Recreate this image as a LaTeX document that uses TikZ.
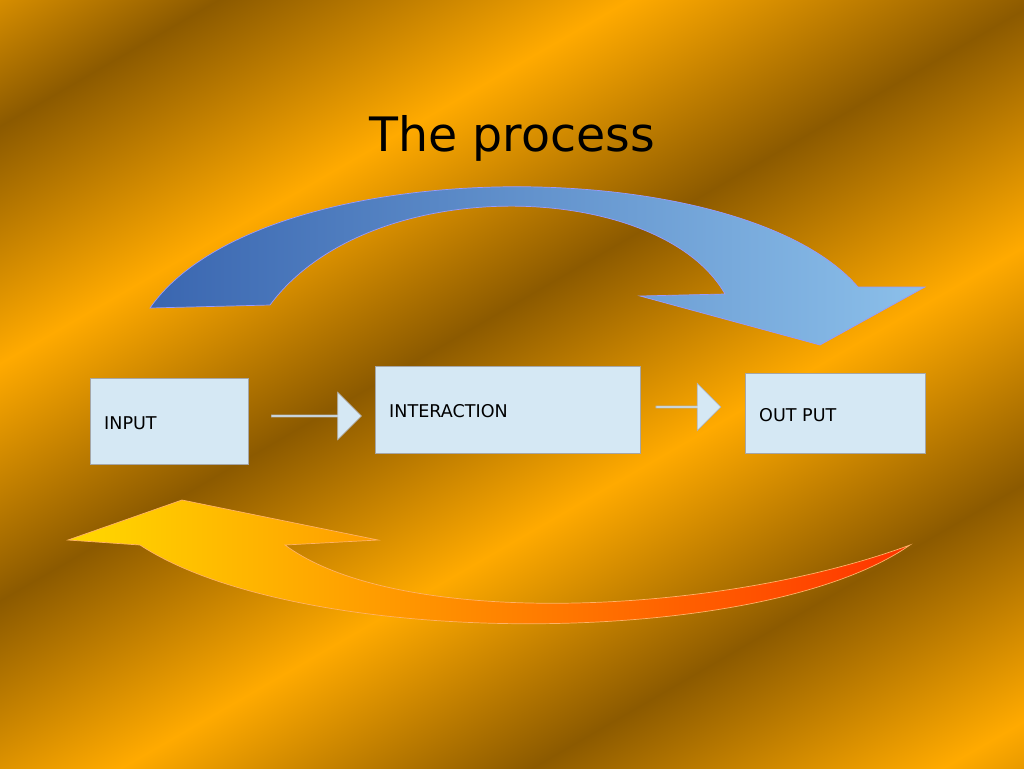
\documentclass[tikz,border=0pt]{standalone}
\usepackage{fontspec}
\setmainfont{DejaVu Sans}
\usetikzlibrary{shapes.arrows}
\definecolor{bright}{HTML}{FFAA00}
\definecolor{dark}{HTML}{8C5A00}
\pgfdeclarehorizontalshading{stripes}{100bp}{
  color(0bp)=(dark); color(12bp)=(bright); color(22bp)=(dark);
  color(34bp)=(bright); color(46bp)=(dark); color(58bp)=(bright);
  color(70bp)=(dark); color(82bp)=(bright); color(94bp)=(dark);
  color(100bp)=(bright)}
\definecolor{boxfill}{HTML}{D5E8F4}
\definecolor{bluedark}{HTML}{3A66B0}
\definecolor{bluelight}{HTML}{8CC0EA}
\tikzset{
  stage/.style={draw=gray!70, fill=boxfill},
  step/.style={single arrow, draw=gray!60, fill=boxfill, single arrow head extend=5pt,
    minimum height=#1, minimum width=0.95cm, inner sep=0pt},
}
\begin{document}
\begin{tikzpicture}[x=0.02cm, y=-0.02cm]
  \useasboundingbox (0,0) rectangle (1024,768);
  \shade[shading=stripes, shading angle=-60] (0,0) rectangle (1024,768);
  \node (title) at (512,138) {\fontsize{27}{32}\selectfont The process};
  % stages
  \path[stage] (90,378) rectangle (248,464);
  \node[anchor=west] (in) at (98,423) {INPUT};
  \path[stage] (375,366) rectangle (640,453);
  \node[anchor=west] (inter) at (383,411) {INTERACTION};
  \path[stage] (745,373) rectangle (925,453);
  \node[anchor=west] (out) at (753,415) {OUT PUT};
  \node[step=1.8cm] (s1) at (316,416) {};
  \node[step=1.3cm] (s2) at (688,407) {};
  % feedback arrows
  \shade[left color=bluedark, right color=bluelight, draw=white!60!blue]
    (150,308) .. controls (260,150) and (740,150) .. (858,287) -- (925,287) -- (820,345)
    -- (640,296) -- (725,294) .. controls (660,180) and (370,170) .. (270,305) -- cycle;
  \shade[left color=yellow!70!orange, right color=red!60!orange, draw=orange!60]
    (68,540) -- (182,500) -- (378,540) -- (285,545) .. controls (400,630) and (720,615)
    .. (910,545) .. controls (760,650) and (300,650) .. (140,545) -- cycle;
\end{tikzpicture}
\end{document}
